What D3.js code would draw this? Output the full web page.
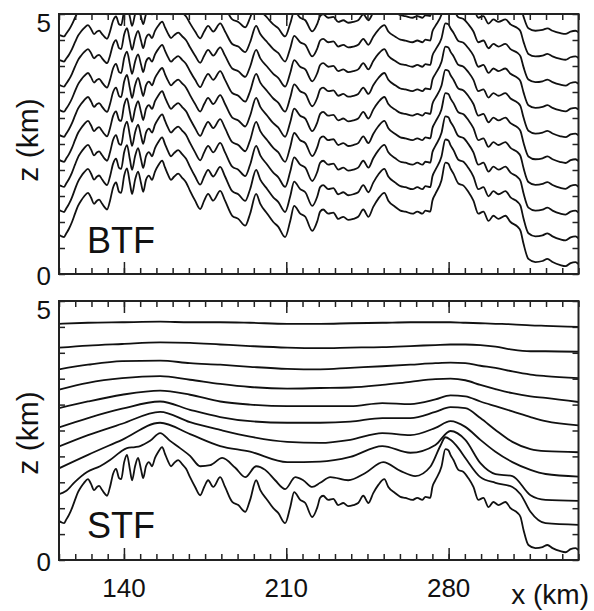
<!DOCTYPE html>
<html>
<head>
<meta charset="utf-8">
<script src="https://cdn.jsdelivr.net/npm/d3@7"></script>
<style>
  body { margin: 0; background: #fff; }
  svg { display: block; font-family: "Liberation Sans", Arial, sans-serif; }
</style>
</head>
<body>
<div id="chart"></div>
<script>
// terrain profile (km along section, height km) - also the lowest coordinate line
var terrainKm = [112.0,112.9,114.2,115.0,116.3,117.6,118.9,120.2,121.5,122.8,
  124.5,125.8,127.1,128.4,129.3,130.6,131.9,132.7,134.0,135.3,
  136.6,137.9,138.8,140.1,141.3,142.6,143.5,144.8,146.1,147.4,
  148.3,149.5,150.8,152.1,153.4,154.7,156.5,157.7,
  159.0,160.3,161.6,163.4,165.1,166.8,168.5,170.7,172.9,174.6,
  176.3,178.5,181.5,183.6,186.7,189.3,192.3,194.4,197.0,198.8,
  201.8,204.4,206.5,209.5,211.7,213.4,216.0,218.2,221.2,223.4,
  224.6,225.9,228.1,230.3,232.4,234.6,236.7,238.9,241.0,243.2,
  245.4,247.5,249.7,252.3,254.0,257.0,259.2,261.3,264.4,266.5,
  268.7,270.0,272.1,273.0,274.3,276.9,278.6,279.9,280.8,282.1,
  284.2,286.4,288.5,290.7,292.8,295.0,297.2,299.3,301.5,304.5,
  306.7,309.7,311.0,312.3,314.4,317.4,320.5,322.6,324.8,328.2,
  330.4,332.6,334.7,336.0];
var terrainZ = [0.75,0.73,0.71,0.77,0.87,1.00,1.16,1.31,1.41,1.49,
  1.56,1.47,1.35,1.41,1.43,1.35,1.27,1.24,1.41,1.66,
  1.76,1.58,1.56,1.89,2.03,1.74,1.54,1.81,1.97,1.74,
  1.58,1.81,1.89,1.81,1.97,2.08,2.18,2.05,
  1.91,1.81,1.87,1.93,1.85,1.76,1.60,1.41,1.25,1.41,
  1.54,1.41,1.60,1.41,1.12,1.06,0.93,1.16,1.54,1.35,
  1.16,1.00,0.91,0.71,1.02,1.31,1.16,1.10,0.83,1.02,
  1.20,1.24,1.16,1.18,1.06,1.10,1.04,1.06,1.10,1.24,
  1.10,1.29,1.45,1.56,1.41,1.29,1.22,1.20,1.16,1.20,
  1.16,1.22,1.20,1.41,1.54,1.80,2.14,2.12,2.03,1.93,
  1.74,1.70,1.58,1.41,1.16,1.20,1.02,1.12,1.06,1.12,
  1.00,0.91,0.83,0.58,0.29,0.23,0.25,0.29,0.23,0.17,
  0.15,0.21,0.23,0.19];

// BTF: levels of the basic terrain-following coordinate (km), model top (km)
var btfLevels = [0, 0.5, 1.0, 1.5, 2.0, 2.5, 3.0, 3.5, 4.0, 4.5];
var modelTop = 20;

// STF: second level
var stf2Km = [112.0,115.0,118.9,124.1,129.7,134.0,138.3,141.3,144.8,147.0,
  151.3,155.6,159.9,164.2,168.5,172.9,177.2,182.4,188.0,192.3,
  197.0,200.9,205.2,209.5,213.9,217.3,221.2,224.6,229.0,236.7,
  244.1,251.8,259.2,265.6,272.1,276.4,278.6,280.8,284.2,287.2,
  293.7,300.2,307.5,311.0,315.3,321.8,336.0];
var stf2Z = [1.27,1.33,1.51,1.70,1.81,1.93,2.08,2.16,2.18,2.20,
  2.30,2.45,2.30,2.16,2.01,1.81,1.83,1.97,1.78,1.60,
  1.81,1.74,1.54,1.37,1.60,1.54,1.41,1.49,1.60,1.54,
  1.68,1.89,1.72,1.62,1.80,2.20,2.37,2.32,2.16,1.97,
  1.60,1.49,1.41,1.27,0.93,0.71,0.68];

// STF: upper levels on a common grid
var stfKm = [112.0,124.5,139.2,155.6,168.5,181.5,194.4,210.4,224.6,237.6,
  251.4,263.5,274.3,280.8,287.2,293.7,300.2,307.5,315.3,321.8,336.0];
var stf3 = [1.77,2.03,2.32,2.65,2.43,2.20,2.09,1.89,1.90,1.99,2.20,2.07,2.22,2.49,2.32,1.87,1.66,1.62,1.25,1.16,1.14];
var stf4 = [2.19,2.41,2.63,2.86,2.66,2.51,2.38,2.28,2.26,2.32,2.45,2.41,2.55,2.68,2.57,2.32,2.09,1.89,1.74,1.66,1.61];
var stf5 = [2.56,2.74,2.92,3.06,2.90,2.76,2.68,2.65,2.65,2.67,2.74,2.74,2.86,2.95,2.93,2.74,2.51,2.28,2.14,2.10,2.08];
var stf6 = [2.93,3.06,3.19,3.27,3.19,3.06,3.00,2.97,2.97,2.97,3.03,3.01,3.10,3.18,3.16,3.06,2.97,2.87,2.76,2.68,2.60];
var stf7 = [3.29,3.42,3.51,3.55,3.48,3.40,3.34,3.31,3.32,3.33,3.38,3.44,3.49,3.50,3.47,3.38,3.30,3.22,3.16,3.13,3.05];
var stf8 = [3.68,3.77,3.84,3.85,3.80,3.77,3.73,3.69,3.68,3.71,3.74,3.77,3.80,3.81,3.80,3.75,3.71,3.64,3.58,3.55,3.51];
var stf9 = [4.10,4.14,4.17,4.20,4.19,4.16,4.13,4.10,4.09,4.10,4.11,4.13,4.15,4.16,4.16,4.15,4.12,4.06,4.03,4.03,4.02];
var stf10 = [4.56,4.58,4.59,4.60,4.59,4.59,4.58,4.56,4.56,4.57,4.58,4.59,4.59,4.59,4.58,4.57,4.56,4.55,4.53,4.52,4.50];

var xTickLabels = [140, 210, 280];
var yTickLabels = [0, 5];

var W = 594, H = 611;
var svg = d3.select("#chart").append("svg")
  .attr("width", W).attr("height", H);

var x = d3.scaleLinear().domain([112, 336]).range([59, 578.5]);
var minorX = d3.range(112, 337, 7);
var minorY = d3.range(0, 5.01, 0.5);

var zip = function(xs, zs){ return xs.map(function(v,i){ return [v, zs[i]]; }); };

var terrain = zip(terrainKm, terrainZ);
var btfLines = btfLevels.map(function(lev){
  return terrain.map(function(d){ return [d[0], lev + d[1]*(1 - lev/modelTop)]; });
});
var stfLines = [terrain, zip(stf2Km, stf2Z)].concat(
  [stf3, stf4, stf5, stf6, stf7, stf8, stf9, stf10].map(function(a){ return zip(stfKm, a); }));

var panels = [
  {id:"btf", label:"BTF", top:14, bottom:274, lines:btfLines, labelY:253, titleY:140, xLabels:false},
  {id:"stf", label:"STF", top:301, bottom:560, lines:stfLines, labelY:538, titleY:433, xLabels:true}
];

panels.forEach(function(p){
  var y = d3.scaleLinear().domain([0, 5]).range([p.bottom, p.top]);
  var g = svg.append("g").classed(p.id, true);

  g.append("clipPath").attr("id", "clip-" + p.id)
    .append("rect")
    .attr("x", x.range()[0]).attr("y", p.top)
    .attr("width", x.range()[1] - x.range()[0]).attr("height", p.bottom - p.top);

  var line = d3.line()
    .x(function(d){ return x(d[0]); })
    .y(function(d){ return y(d[1]); })
    .curve(d3.curveMonotoneX);

  g.append("g").attr("clip-path", "url(#clip-" + p.id + ")")
    .selectAll("path").data(p.lines).enter()
    .append("path")
    .attr("d", line)
    .attr("fill", "none")
    .attr("stroke", "#111")
    .attr("stroke-width", 1.8)
    .attr("stroke-linejoin", "round");

  // ticks on all four sides, pointing inward
  function ticks(axis, tr){
    g.append("g").attr("transform", tr).call(axis)
      .call(function(s){ s.select(".domain").remove(); })
      .selectAll("line").attr("stroke", "#222").attr("stroke-width", 1.5);
  }
  ticks(d3.axisBottom(x).tickValues(minorX).tickSize(-6).tickFormat(""), "translate(0," + p.bottom + ")");
  ticks(d3.axisBottom(x).tickValues(xTickLabels).tickSize(-12).tickFormat(""), "translate(0," + p.bottom + ")");
  ticks(d3.axisTop(x).tickValues(minorX).tickSize(-6).tickFormat(""), "translate(0," + p.top + ")");
  ticks(d3.axisTop(x).tickValues(xTickLabels).tickSize(-12).tickFormat(""), "translate(0," + p.top + ")");
  ticks(d3.axisLeft(y).tickValues(minorY).tickSize(-6).tickFormat(""), "translate(" + x.range()[0] + ",0)");
  ticks(d3.axisRight(y).tickValues(minorY).tickSize(-6).tickFormat(""), "translate(" + x.range()[1] + ",0)");

  g.append("rect")
    .attr("x", x.range()[0]).attr("y", p.top)
    .attr("width", x.range()[1] - x.range()[0]).attr("height", p.bottom - p.top)
    .attr("fill", "none").attr("stroke", "#222").attr("stroke-width", 2);

  // y labels
  g.selectAll(".ylab").data(yTickLabels).enter()
    .append("text").classed("ylab", true)
    .attr("x", 51)
    .attr("y", function(d){ return y(d); })
    .attr("dy", function(d){ return d === 5 ? 18 : 11; })
    .attr("text-anchor", "end")
    .attr("font-size", 26)
    .attr("fill", "#111")
    .text(function(d){ return d; });

  g.append("text")
    .attr("transform", "translate(38," + p.titleY + ") rotate(-90)")
    .attr("text-anchor", "middle")
    .attr("font-size", 30)
    .attr("fill", "#111")
    .text("z (km)");

  g.append("text")
    .attr("x", 87).attr("y", p.labelY)
    .attr("font-size", 36)
    .attr("fill", "#111")
    .text(p.label);

  if (p.xLabels) {
    g.selectAll(".xlab").data(xTickLabels).enter()
      .append("text").classed("xlab", true)
      .attr("x", function(d){ return x(d); })
      .attr("y", 597)
      .attr("text-anchor", "middle")
      .attr("font-size", 26)
      .attr("fill", "#111")
      .text(function(d){ return d; });
  }
});

svg.append("text")
  .attr("x", 589).attr("y", 604)
  .attr("text-anchor", "end")
  .attr("font-size", 28)
  .attr("fill", "#111")
  .text("x (km)");
</script>
</body>
</html>
